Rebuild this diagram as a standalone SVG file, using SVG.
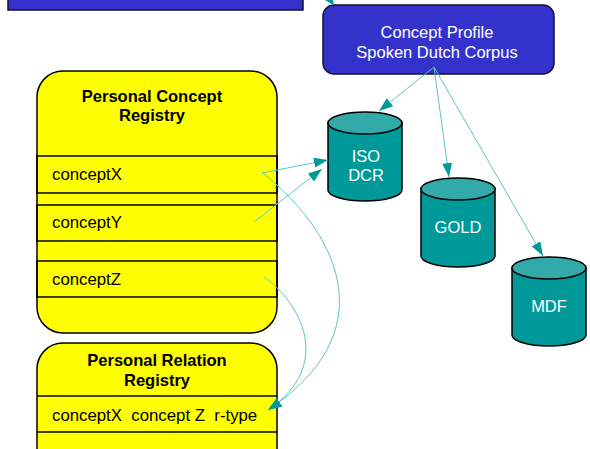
<svg xmlns="http://www.w3.org/2000/svg" width="590" height="449" viewBox="0 0 590 449">
<style>
.blue{fill:#3333CC;stroke:#111133;stroke-width:1.5}
.yel{fill:#FFFF00;stroke:#000;stroke-width:1.5}
.row{fill:none;stroke:#000;stroke-width:1.5}
.body{fill:#009999;stroke:#000;stroke-width:1.5}
.top{fill:#33AAAA;stroke:#000;stroke-width:1.5}
.wt{font-family:"Liberation Sans",Arial,sans-serif;font-size:16.5px;fill:#fff;text-anchor:middle}
.bt{font-family:"Liberation Sans",Arial,sans-serif;font-size:16.5px;font-weight:bold;fill:#000;text-anchor:middle}
.rt{font-family:"Liberation Sans",Arial,sans-serif;font-size:16.8px;fill:#000}
.con{fill:none;stroke:#5CC5C5;stroke-width:1}
</style>
<defs>
<marker id="ah" markerUnits="userSpaceOnUse" markerWidth="15" markerHeight="11" refX="14" refY="5" orient="auto">
<path d="M0,0 L14,5 L0,10 z" fill="#009999"/>
</marker>
</defs>
<rect width="590" height="449" fill="#fff"/>
<g id="top-box">
<rect class="blue" x="8" y="-20" width="295" height="30"/>
</g>
<g id="concept-profile">
<rect class="blue" x="323" y="5" width="231" height="69" rx="11"/>
<text class="wt" x="437" y="38">Concept Profile</text>
<text class="wt" x="437" y="58">Spoken Dutch Corpus</text>
</g>
<g id="personal-concept-registry">
<rect class="yel" x="37" y="71" width="240" height="262" rx="26"/>
<rect class="row" x="37" y="156" width="240" height="37"/>
<rect class="row" x="37" y="205" width="240" height="36"/>
<rect class="row" x="37" y="261" width="240" height="36"/>
<text class="bt" x="152" y="102">Personal Concept</text>
<text class="bt" x="152" y="121">Registry</text>
<text class="rt" x="52" y="180">conceptX</text>
<text class="rt" x="52" y="228">conceptY</text>
<text class="rt" x="52" y="285">conceptZ</text>
</g>
<g id="personal-relation-registry">
<rect class="yel" x="37" y="343" width="240" height="140" rx="26"/>
<line class="row" x1="37" y1="396" x2="277" y2="396"/>
<line class="row" x1="37" y1="432" x2="277" y2="432"/>
<text class="bt" x="157" y="366">Personal Relation</text>
<text class="bt" x="157" y="386">Registry</text>
<text class="rt" x="52" y="421" xml:space="preserve">conceptX  concept Z  r-type</text>
</g>
<g id="iso-dcr">
<path class="body" d="M328,123 L328,190 A37,11 0 0 0 402,190 L402,123 z"/>
<ellipse class="top" cx="365" cy="123" rx="37" ry="11"/>
<text class="wt" x="366" y="162">ISO</text>
<text class="wt" x="366" y="181">DCR</text>
</g>
<g id="gold">
<path class="body" d="M421,189 L421,256 A37,11 0 0 0 495,256 L495,189 z"/>
<ellipse class="top" cx="458" cy="189" rx="37" ry="11"/>
<text class="wt" x="458" y="233">GOLD</text>
</g>
<g id="mdf">
<path class="body" d="M512,268 L512,335 A37,11 0 0 0 586,335 L586,268 z"/>
<ellipse class="top" cx="549" cy="268" rx="37" ry="11"/>
<text class="wt" x="549" y="312">MDF</text>
</g>
<g id="connectors">
<polygon points="325,0 333,0 334,5 330,3" fill="#009999"/>
<line class="con" x1="434" y1="67" x2="379" y2="111" marker-end="url(#ah)"/>
<line class="con" x1="434" y1="67" x2="449" y2="177" marker-end="url(#ah)"/>
<line class="con" x1="434" y1="67" x2="543" y2="256" marker-end="url(#ah)"/>
<line class="con" x1="262" y1="173" x2="328" y2="160" marker-end="url(#ah)"/>
<line class="con" x1="254" y1="222" x2="322" y2="169" marker-end="url(#ah)"/>
<path class="con" d="M263,173 C340,235 385,332 268,410" marker-end="url(#ah)"/>
<path class="con" d="M264,277 C300,302 335,365 268,410" marker-end="url(#ah)"/>
</g>
</svg>
